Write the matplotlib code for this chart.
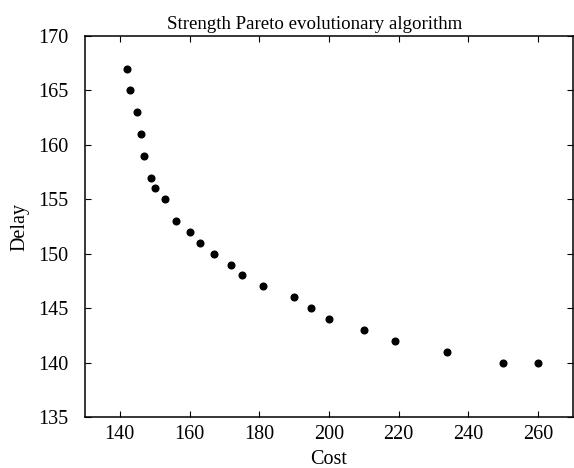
import matplotlib.pyplot as plt

# Pareto front
cost = [142, 143, 145, 146, 147, 149, 150, 153, 156, 160, 163, 167, 172, 175,
        181, 190, 195, 200, 210, 219, 234, 250, 260]
delay = [167, 165, 163, 161, 159, 157, 156, 155, 153, 152, 151, 150, 149, 148,
         147, 146, 145, 144, 143, 142, 141, 140, 140]

xticks = [140, 160, 180, 200, 220, 240, 260]
yticks = [135, 140, 145, 150, 155, 160, 165, 170]

plt.rcParams['font.family'] = ['Liberation Serif', 'DejaVu Serif']

fig = plt.figure(figsize=(5.74, 4.68), dpi=100)
ax = fig.add_axes([0.148, 0.109, 0.85, 0.814])

ax.plot(cost, delay, 'o', color='black', markersize=4.8, linestyle='none')

ax.set_xlim(130, 270)
ax.set_ylim(135, 170)
ax.set_xticks(xticks)
ax.set_yticks(yticks)
ax.tick_params(direction='in', top=True, right=True, length=4, width=0.8,
               labelsize=14.5)
ax.tick_params(axis='x', pad=6)
ax.tick_params(axis='y', pad=12)
for s in ax.spines.values():
    s.set_linewidth(1.1)

ax.set_title('Strength Pareto evolutionary algorithm', fontsize=13.6, pad=5, x=0.47)
ax.set_xlabel('Cost', fontsize=14.5, labelpad=4)
ax.set_ylabel('Delay', fontsize=14.5, labelpad=6)

fig.savefig('out.png', dpi=100)
